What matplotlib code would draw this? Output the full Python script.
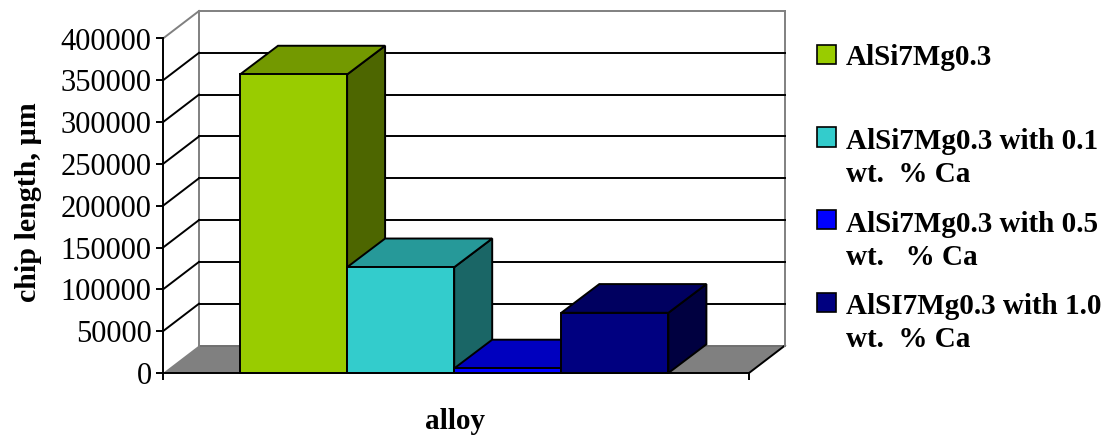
import matplotlib
matplotlib.use("Agg")
import matplotlib.pyplot as plt
from matplotlib.patches import Rectangle

# --- data -----------------------------------------------------------------
labels = ["AlSi7Mg0.3", "AlSi7Mg0.3 with 0.1\nwt.  % Ca",
          "AlSi7Mg0.3 with 0.5\nwt.   % Ca", "AlSI7Mg0.3 with 1.0\nwt.  % Ca"]
values = [357000, 126500, 5500, 72000]
y_ticks = [0, 50000, 100000, 150000, 200000, 250000, 300000, 350000, 400000]
front_colors = ["#99CC00", "#33CCCC", "#0000FF", "#000080"]
top_colors = ["#739900", "#269999", "#0000BF", "#000060"]
side_colors = ["#4D6600", "#1A6666", "#000080", "#000040"]
y_label = "chip length, \u00b5m"
x_label = "alloy"

# --- layout (pixels of the 1109x436 figure) -------------------------------
W, H = 1109, 436
AX_L, AX_R, AX_T, AX_B = 163, 749, 38.5, 373
WALL_DX, WALL_DY = 36, 27.5
BAR_DX, BAR_DY = 38, 28.7
BAR_W_PX = 107.1
FIRST_BAR_PX = 240
LEGEND_BOX_X, LEGEND_BOX_SIZE, LEGEND_TEXT_X = 817, 19, 846
LEGEND_BOX_Y = [55, 137, 219, 302]
LEGEND_TEXT_TOP = [44, 128, 211, 293]

plt.rcParams["font.family"] = ["Liberation Serif", "DejaVu Serif"]
fig = plt.figure(figsize=(W / 100, H / 100), dpi=100, facecolor="white")
ax = fig.add_axes([AX_L / W, 1 - AX_B / H, (AX_R - AX_L) / W, (AX_B - AX_T) / H])
ax.patch.set_visible(False)

# Data axis: x in bar widths with the first bar's left edge at 0, y in value
x_min = (AX_L - FIRST_BAR_PX) / BAR_W_PX
x_max = (AX_R - FIRST_BAR_PX) / BAR_W_PX
y_max = y_ticks[-1]
ax.set_xlim(x_min, x_max)
ax.set_ylim(0, y_max)
per_px_x = (x_max - x_min) / (AX_R - AX_L)
per_px_y = y_max / (AX_B - AX_T)
wdx, wdy = WALL_DX * per_px_x, WALL_DY * per_px_y
bdx, bdy = BAR_DX * per_px_x, BAR_DY * per_px_y

GRAY = "#808080"
LW = 1.4
kw = dict(clip_on=False)

# floor
ax.fill([x_min, x_min + wdx, x_max + wdx, x_max], [0, wdy, wdy, 0],
        facecolor=GRAY, edgecolor="none", zorder=1, **kw)
ax.plot([x_min + wdx, x_max + wdx], [wdy, wdy], color="#707070", lw=LW, zorder=1.1, **kw)
ax.plot([x_max, x_max + wdx], [0, wdy], color="black", lw=LW, zorder=1.1, **kw)

# walls and gridlines
for t in y_ticks[1:]:
    col = GRAY if t == y_max else "black"
    ax.plot([x_min + wdx, x_max + wdx], [t + wdy, t + wdy], color=col, lw=LW, zorder=1.2, **kw)
    ax.plot([x_min, x_min + wdx], [t, t + wdy], color=col, lw=LW, zorder=1.2, **kw)
for xp in (x_min + wdx, x_max + wdx):
    ax.plot([xp, xp], [wdy, y_max + wdy], color=GRAY, lw=LW, zorder=1.15, **kw)

# bars
for i, v in enumerate(values):
    z = 2 + i
    edge = dict(edgecolor="black", linewidth=LW, joinstyle="miter", zorder=z, **kw)
    ax.fill([i + 1, i + 1 + bdx, i + 1 + bdx, i + 1], [0, bdy, v + bdy, v],
            facecolor=side_colors[i], **edge)
    ax.fill([i, i + bdx, i + 1 + bdx, i + 1], [v, v + bdy, v + bdy, v],
            facecolor=top_colors[i], **edge)
    ax.bar(i, v, width=1, align="edge", color=front_colors[i], edgecolor="black",
           linewidth=LW, zorder=z + 0.5, **kw)

# axes
for s in ("top", "right"):
    ax.spines[s].set_visible(False)
for s in ("left", "bottom"):
    ax.spines[s].set_linewidth(LW)
    ax.spines[s].set_zorder(10)
ax.set_xticks([x_min, x_max])
ax.set_xticklabels([])
ax.set_yticks(y_ticks)
ax.set_yticklabels([str(t) for t in y_ticks])
ax.tick_params(axis="both", length=5, width=LW, color="black")
ax.tick_params(axis="y", labelsize=22, pad=3.2)

ax.set_ylabel(y_label, fontsize=21.6, fontweight="bold")
ax.yaxis.set_label_coords((29 - AX_L) / (AX_R - AX_L), (AX_B - 202) / (AX_B - AX_T))
ax.set_xlabel(x_label, fontsize=21, fontweight="bold")
ax.xaxis.set_label_coords((455 - AX_L) / (AX_R - AX_L), -(421.5 - AX_B) / (AX_B - AX_T))
ax.xaxis.label.set_va("center")
ax.yaxis.label.set_va("center")

# legend
for lab, col, ybox, ytxt in zip(labels, front_colors, LEGEND_BOX_Y, LEGEND_TEXT_TOP):
    fig.add_artist(Rectangle((LEGEND_BOX_X / W, 1 - (ybox + LEGEND_BOX_SIZE / 2) / H),
                             LEGEND_BOX_SIZE / W, LEGEND_BOX_SIZE / H,
                             transform=fig.transFigure, facecolor=col,
                             edgecolor="black", linewidth=1.2))
    fig.text(LEGEND_TEXT_X / W, 1 - ytxt / H, lab, fontsize=21, fontweight="bold",
             ha="left", va="top", linespacing=1.27)

fig.savefig("out.png", dpi=100)
